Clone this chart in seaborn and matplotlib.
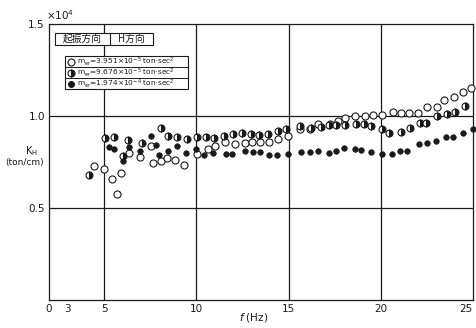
import matplotlib
matplotlib.use("Agg")
import matplotlib.pyplot as plt
import seaborn as sns
from matplotlib.patches import Rectangle
from matplotlib.lines import Line2D

sns.set_theme(style="white")
plt.rcParams['font.family'] = ['DejaVu Sans', 'Noto Sans CJK JP']

# Horizontal dynamic stiffness K_H (x10^4 ton/cm) vs. frequency f (Hz)
# m_er = 3.951e-5 ton.sec^2 (open circles)
freq_a = [4.42, 4.98, 5.40, 5.69, 5.92, 6.32, 6.96, 7.54, 7.63, 8.08, 8.42, 8.86,
          9.35, 10.05, 10.61, 11.03, 11.56, 12.07, 12.61, 13.03, 13.46, 13.93,
          14.42, 14.97, 15.60, 16.14, 16.59, 17.23, 17.68, 18.04, 18.59, 19.13,
          19.55, 20.09, 20.67, 21.07, 21.54, 22.00, 22.52, 23.03, 23.42, 23.97,
          24.44, 24.90]
kh_a = [0.730, 0.714, 0.659, 0.574, 0.692, 0.800, 0.775, 0.839, 0.743, 0.755, 0.772,
        0.763, 0.734, 0.792, 0.819, 0.837, 0.857, 0.846, 0.855, 0.857, 0.859, 0.857,
        0.873, 0.891, 0.931, 0.929, 0.955, 0.957, 0.975, 0.989, 1.000, 1.000, 1.007,
        1.005, 1.022, 1.015, 1.015, 1.016, 1.051, 1.047, 1.088, 1.105, 1.132, 1.150]

# m_er = 9.676e-5 ton.sec^2 (half-filled circles)
freq_b = [4.18, 5.05, 5.54, 6.03, 6.27, 7.05, 8.06, 8.46, 8.95, 9.47, 10.05, 10.52,
          10.94, 11.47, 11.97, 12.48, 12.97, 13.39, 13.88, 14.42, 14.87, 15.60,
          16.23, 16.78, 17.19, 17.59, 18.04, 18.64, 19.09, 19.49, 20.04, 20.45,
          21.12, 21.58, 22.12, 22.45, 23.03, 23.57, 24.02, 24.57]
kh_b = [0.678, 0.879, 0.884, 0.783, 0.868, 0.855, 0.935, 0.893, 0.888, 0.877, 0.888,
        0.888, 0.880, 0.890, 0.900, 0.906, 0.900, 0.899, 0.902, 0.920, 0.928, 0.946,
        0.933, 0.942, 0.951, 0.953, 0.953, 0.957, 0.955, 0.947, 0.931, 0.906, 0.911,
        0.936, 0.960, 0.964, 1.000, 1.011, 1.023, 1.054]

# m_er = 1.974e-4 ton.sec^2 (filled circles)
freq_c = [5.27, 5.54, 5.99, 6.36, 6.94, 7.54, 7.81, 7.99, 8.48, 8.93, 9.44, 9.98,
          10.43, 10.92, 11.61, 11.92, 12.61, 13.06, 13.42, 13.93, 14.36, 14.98,
          15.65, 16.18, 16.59, 17.19, 17.55, 17.99, 18.59, 18.95, 19.44, 20.09,
          20.60, 21.03, 21.43, 22.08, 22.48, 22.97, 23.53, 23.93, 24.44, 25.00]
kh_c = [0.833, 0.819, 0.757, 0.833, 0.811, 0.893, 0.842, 0.788, 0.811, 0.837, 0.797,
        0.819, 0.788, 0.797, 0.792, 0.792, 0.810, 0.803, 0.803, 0.788, 0.790, 0.792,
        0.806, 0.806, 0.810, 0.797, 0.811, 0.828, 0.822, 0.815, 0.802, 0.793, 0.793,
        0.811, 0.811, 0.848, 0.855, 0.862, 0.888, 0.884, 0.906, 0.928]

x_ticks = [2, 3, 5, 10, 15, 20, 25]
x_tick_labels = ['0', '3', '5', '10', '15', '20', '25']
y_ticks = [0.5, 1.0, 1.5]
y_tick_labels = ['0.5', '1.0', '1.5']
legend_labels = [r"$\mathrm{m_{er}}$=3.951×10$^{-5}$ ton·sec$^2$",
                 r"$\mathrm{m_{er}}$=9.676×10$^{-5}$ ton·sec$^2$",
                 r"$\mathrm{m_{er}}$=1.974×10$^{-4}$ ton·sec$^2$"]

W, H = 476, 328
fig = plt.figure(figsize=(W / 100, H / 100), dpi=100)
ax = fig.add_axes([49 / W, (H - 300) / H, 424 / W, 276 / H])
ink = '#1a1a1a'


def fx(px):
    return px / W


def fy(py):
    return 1 - py / H


# reference grid
for yv in (0.5, 1.0):
    ax.axhline(yv, color=ink, lw=0.9, zorder=1)
for xv in (5, 10, 15, 20):
    ax.axvline(xv, color=ink, lw=0.9, zorder=1)

sns.scatterplot(x=freq_a, y=kh_a, ax=ax, marker='o', s=26, color='white',
                edgecolor=ink, linewidth=0.8, zorder=3, clip_on=False)
sns.lineplot(x=freq_b, y=kh_b, ax=ax, marker='o', linestyle='', markersize=5,
             fillstyle='right', color=ink, markerfacecoloralt='white',
             mec=ink, mew=0.8, estimator=None, sort=False, zorder=3, clip_on=False)
sns.scatterplot(x=freq_c, y=kh_c, ax=ax, marker='o', s=16, color=ink,
                edgecolor=ink, linewidth=0.5, zorder=3, clip_on=False)

ax.set_xlim(2, 25)
ax.set_ylim(0, 1.5)
ax.set_xticks(x_ticks)
ax.set_xticklabels(x_tick_labels)
ax.set_yticks(y_ticks)
ax.set_yticklabels(y_tick_labels)
ax.tick_params(length=0, labelsize=7.5, colors=ink, pad=3)
ax.get_xticklabels()[-1].set_horizontalalignment('right')
ax.set_xlabel('')
ax.set_ylabel('')
for sp in ax.spines.values():
    sp.set_color(ink)
    sp.set_linewidth(0.9)

fig.text(fx(46), fy(20), r'×10$^4$', fontsize=7.5, color=ink, va='baseline')
fig.text(fx(31), fy(151), r'K$_\mathrm{H}$', fontsize=7, color=ink, ha='center', va='center')
fig.text(fx(25), fy(163), '(ton/cm)', fontsize=6.5, color=ink, ha='center', va='center')
fig.text(fx(254), fy(318), r'$f$ (Hz)', fontsize=7.5, color=ink, ha='center', va='center')

# header box: excitation direction
fig.add_artist(Rectangle((fx(55), fy(45)), fx(153) - fx(55), fy(33) - fy(45),
                         transform=fig.transFigure, facecolor='white',
                         edgecolor=ink, lw=0.8, zorder=5))
fig.add_artist(Line2D([fx(110), fx(110)], [fy(45), fy(33)], transform=fig.transFigure,
                      color=ink, lw=0.8, zorder=6))
fig.text(fx(82), fy(39), '起振方向', fontsize=7, color=ink, ha='center', va='center',
         family=['Noto Sans CJK JP', 'DejaVu Sans'], zorder=7)
fig.text(fx(131), fy(39), 'H方向', fontsize=7, color=ink, ha='center', va='center',
         family=['Noto Sans CJK JP', 'DejaVu Sans'], zorder=7)

# series key box
fig.add_artist(Rectangle((fx(65), fy(89)), fx(188) - fx(65), fy(56) - fy(89),
                         transform=fig.transFigure, facecolor='white',
                         edgecolor=ink, lw=0.8, zorder=5))
for py in (67, 78):
    fig.add_artist(Line2D([fx(65), fx(188)], [fy(py), fy(py)], transform=fig.transFigure,
                          color=ink, lw=0.7, zorder=6))
row_y = [62, 73, 84]
key_styles = [dict(markerfacecolor='white', markersize=5),
              dict(fillstyle='right', markerfacecolor=ink, markerfacecoloralt='white', markersize=5),
              dict(markerfacecolor=ink, markersize=4.2)]
for py, lab, st in zip(row_y, legend_labels, key_styles):
    fig.add_artist(Line2D([fx(71)], [fy(py - 0.5)], transform=fig.transFigure, marker='o',
                          linestyle='', mec=ink, mew=0.8, zorder=7, **st))
    fig.text(fx(77), fy(py), lab, fontsize=5.3, color=ink, va='center', zorder=7)

fig.savefig('out.png', dpi=100, facecolor='white')
